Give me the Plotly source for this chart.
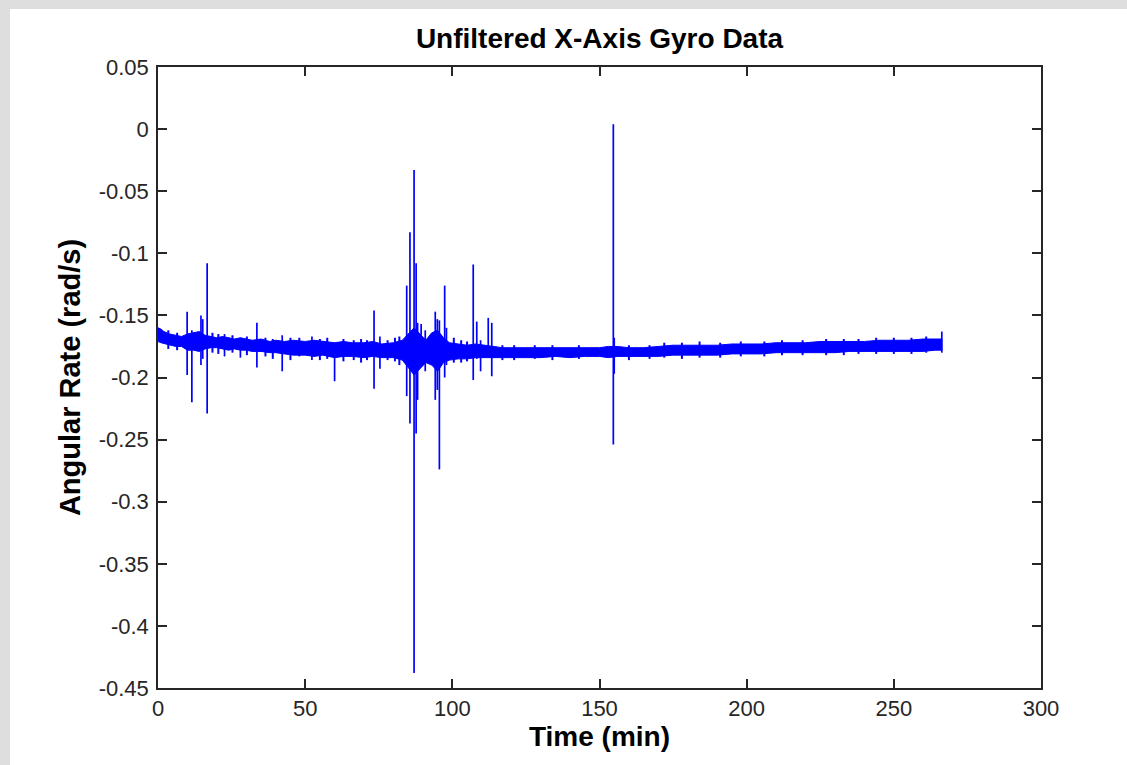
import plotly.graph_objects as go

# ---- data ----
band_t = [0, 1, 2, 4, 6, 8, 10, 12, 14, 16, 18, 20, 22, 24, 26, 28, 30, 32, 35, 38, 40, 43, 46, 50,
          53, 56, 60, 63, 66, 70, 73, 76, 80, 83, 85, 87, 89, 91, 93, 95, 97, 99, 102, 105, 108,
          111, 114, 117, 120, 125, 130, 135, 140, 145, 150, 153, 156, 160, 165, 170, 175, 180,
          185, 190, 195, 200, 205, 210, 215, 220, 225, 230, 235, 240, 245, 250, 255, 260, 264, 266.3]
band_upper = [-0.160, -0.161, -0.163, -0.165, -0.166, -0.167, -0.165, -0.164, -0.163, -0.166, -0.167,
              -0.168, -0.167, -0.168, -0.169, -0.168, -0.169, -0.170, -0.169, -0.171, -0.170, -0.171,
              -0.170, -0.171, -0.170, -0.171, -0.172, -0.171, -0.172, -0.172, -0.171, -0.173, -0.172,
              -0.170, -0.165, -0.160, -0.165, -0.170, -0.164, -0.162, -0.168, -0.172, -0.173, -0.174,
              -0.173, -0.174, -0.175, -0.176, -0.176, -0.176, -0.176, -0.176, -0.176, -0.176, -0.176,
              -0.175, -0.175, -0.176, -0.176, -0.175, -0.174, -0.174, -0.174, -0.174, -0.173, -0.173,
              -0.173, -0.172, -0.172, -0.172, -0.171, -0.171, -0.171, -0.171, -0.170, -0.170, -0.170,
              -0.169, -0.169, -0.169]
band_lower = [-0.171, -0.172, -0.173, -0.174, -0.175, -0.175, -0.178, -0.178, -0.179, -0.177, -0.176,
              -0.176, -0.177, -0.178, -0.177, -0.178, -0.178, -0.179, -0.179, -0.180, -0.180, -0.181,
              -0.182, -0.182, -0.183, -0.182, -0.184, -0.183, -0.183, -0.184, -0.183, -0.184, -0.184,
              -0.186, -0.192, -0.198, -0.193, -0.188, -0.190, -0.195, -0.188, -0.186, -0.185, -0.185,
              -0.184, -0.184, -0.184, -0.184, -0.184, -0.184, -0.184, -0.183, -0.184, -0.183, -0.183,
              -0.184, -0.183, -0.183, -0.183, -0.183, -0.182, -0.182, -0.182, -0.182, -0.181, -0.181,
              -0.181, -0.180, -0.180, -0.180, -0.180, -0.180, -0.179, -0.179, -0.179, -0.179, -0.179,
              -0.179, -0.178, -0.178]

# large spikes
spike_t = [9.9, 11.5, 14.6, 15.2, 16.7, 22.6, 28.0, 33.6, 42.2, 52.3, 60.0, 73.4, 75.4, 84.5, 85.6,
           87.0, 87.7, 88.2, 89.4, 90.8, 94.2, 94.9, 95.6, 97.4, 98.0, 107.1, 108.3, 109.6, 112.2,
           113.4, 154.7, 155.0, 266.3]
spike_top = [-0.147, -0.162, -0.150, -0.153, -0.108, -0.165, -0.168, -0.156, -0.166, -0.167, -0.172,
             -0.146, -0.167, -0.126, -0.083, -0.033, -0.108, -0.156, -0.157, -0.162, -0.147, -0.153,
             -0.154, -0.126, -0.160, -0.109, -0.155, -0.170, -0.152, -0.156, 0.004, -0.168, -0.163]
spike_bottom = [-0.198, -0.220, -0.190, -0.185, -0.229, -0.183, -0.184, -0.192, -0.195, -0.186, -0.203,
                -0.209, -0.193, -0.215, -0.237, -0.438, -0.245, -0.218, -0.190, -0.195, -0.218, -0.210,
                -0.274, -0.200, -0.190, -0.202, -0.185, -0.195, -0.178, -0.199, -0.254, -0.197, -0.180]

# small noise bursts along the band
small_t = [3.5, 6.5, 18.5, 20.5, 25.3, 30.2, 36.5, 39.0, 45.0, 48.0, 55.0, 57.5, 63.0, 66.5, 69.0,
           71.0, 78.0, 80.5, 82.0, 100.5, 103.0, 105.0, 117.0, 121.0, 128.0, 134.0, 143.0, 160.0,
           167.0, 172.0, 178.0, 184.0, 191.0, 198.0, 206.0, 212.0, 219.0, 227.0, 233.0, 238.0,
           244.0, 250.0, 256.0, 261.0]
small_top = [-0.162, -0.164, -0.164, -0.165, -0.166, -0.167, -0.168, -0.169, -0.168, -0.168, -0.169,
             -0.168, -0.169, -0.170, -0.169, -0.170, -0.170, -0.168, -0.167, -0.168, -0.170, -0.171,
             -0.174, -0.174, -0.174, -0.174, -0.174, -0.174, -0.174, -0.172, -0.172, -0.171, -0.172,
             -0.171, -0.171, -0.170, -0.170, -0.169, -0.169, -0.169, -0.168, -0.168, -0.168, -0.167]
small_bottom = [-0.177, -0.178, -0.180, -0.181, -0.180, -0.182, -0.183, -0.185, -0.186, -0.183, -0.186,
                -0.185, -0.187, -0.186, -0.188, -0.186, -0.186, -0.187, -0.190, -0.188, -0.188, -0.187,
                -0.186, -0.186, -0.185, -0.186, -0.185, -0.186, -0.185, -0.184, -0.185, -0.184, -0.184,
                -0.183, -0.183, -0.182, -0.182, -0.182, -0.182, -0.181, -0.181, -0.181, -0.181, -0.180]

x_ticks = [0, 50, 100, 150, 200, 250, 300]
y_ticks = [0.05, 0, -0.05, -0.1, -0.15, -0.2, -0.25, -0.3, -0.35, -0.4, -0.45]
y_ticktext = ["0.05", "0", "-0.05", "-0.1", "-0.15", "-0.2", "-0.25", "-0.3", "-0.35", "-0.4", "-0.45"]

BLUE = "#0000ff"
W, H = 1127, 765
L, R, T, B = 158, 1041, 67, 688

fig = go.Figure()

# band polygon
poly_x = band_t + band_t[::-1]
poly_y = band_upper + band_lower[::-1]
fig.add_trace(go.Scatter(x=poly_x, y=poly_y, mode="lines", fill="toself",
                         fillcolor=BLUE, line=dict(color=BLUE, width=1),
                         hoverinfo="skip", showlegend=False))

# small noise bursts
nx, ny = [], []
for t, a, b in zip(small_t, small_top, small_bottom):
    nx += [t, t, None]
    ny += [b, a, None]
fig.add_trace(go.Scatter(x=nx, y=ny, mode="lines", line=dict(color=BLUE, width=2),
                         hoverinfo="skip", showlegend=False))

# spikes
sx, sy = [], []
for t, a, b in zip(spike_t, spike_top, spike_bottom):
    sx += [t, t, None]
    sy += [b, a, None]
fig.add_trace(go.Scatter(x=sx, y=sy, mode="lines", line=dict(color=BLUE, width=1.7),
                         hoverinfo="skip", showlegend=False))

pw, ph = R - L, B - T
def px2paper(px):
    return (px - L) / pw
def py2paper(py):
    return (B - py) / ph

# white figure panel on gray frame
fig.add_shape(type="rect", xref="paper", yref="paper",
              x0=px2paper(10), x1=px2paper(W + 5), y0=py2paper(H + 5), y1=py2paper(9),
              fillcolor="white", line=dict(width=0), layer="below")

font_family = "Liberation Sans, Arial, sans-serif"
axis_common = dict(showline=True, linecolor="#262626", linewidth=1.5, mirror="ticks",
                   ticks="inside", ticklen=9, tickwidth=1.5, tickcolor="#262626",
                   showgrid=False, zeroline=False,
                   tickfont=dict(family=font_family, size=22, color="#262626"))

fig.update_layout(
    width=W, height=H,
    margin=dict(l=L, r=W - R, t=T, b=H - B),
    paper_bgcolor="#dedede", plot_bgcolor="white",
    title=dict(text="<b>Unfiltered X-Axis Gyro Data</b>", x=0.5, xanchor="center",
               xref="paper", y=1 - 38 / H, yanchor="middle",
               font=dict(family=font_family, size=28, color="black")),
    xaxis=dict(range=[0, 300], tickvals=x_ticks, ticktext=[str(v) for v in x_ticks],
               title=dict(text="<b>Time (min)</b>", standoff=6,
                          font=dict(family=font_family, size=28, color="black")),
               ticklabelstandoff=0, **axis_common),
    yaxis=dict(range=[-0.45, 0.05], tickvals=y_ticks, ticktext=y_ticktext,
               title=dict(text="<b>Angular Rate (rad/s)</b>", standoff=10,
                          font=dict(family=font_family, size=29, color="black")),
               ticklabelstandoff=3, **axis_common),
    showlegend=False,
)

fig.write_html("out.html")
